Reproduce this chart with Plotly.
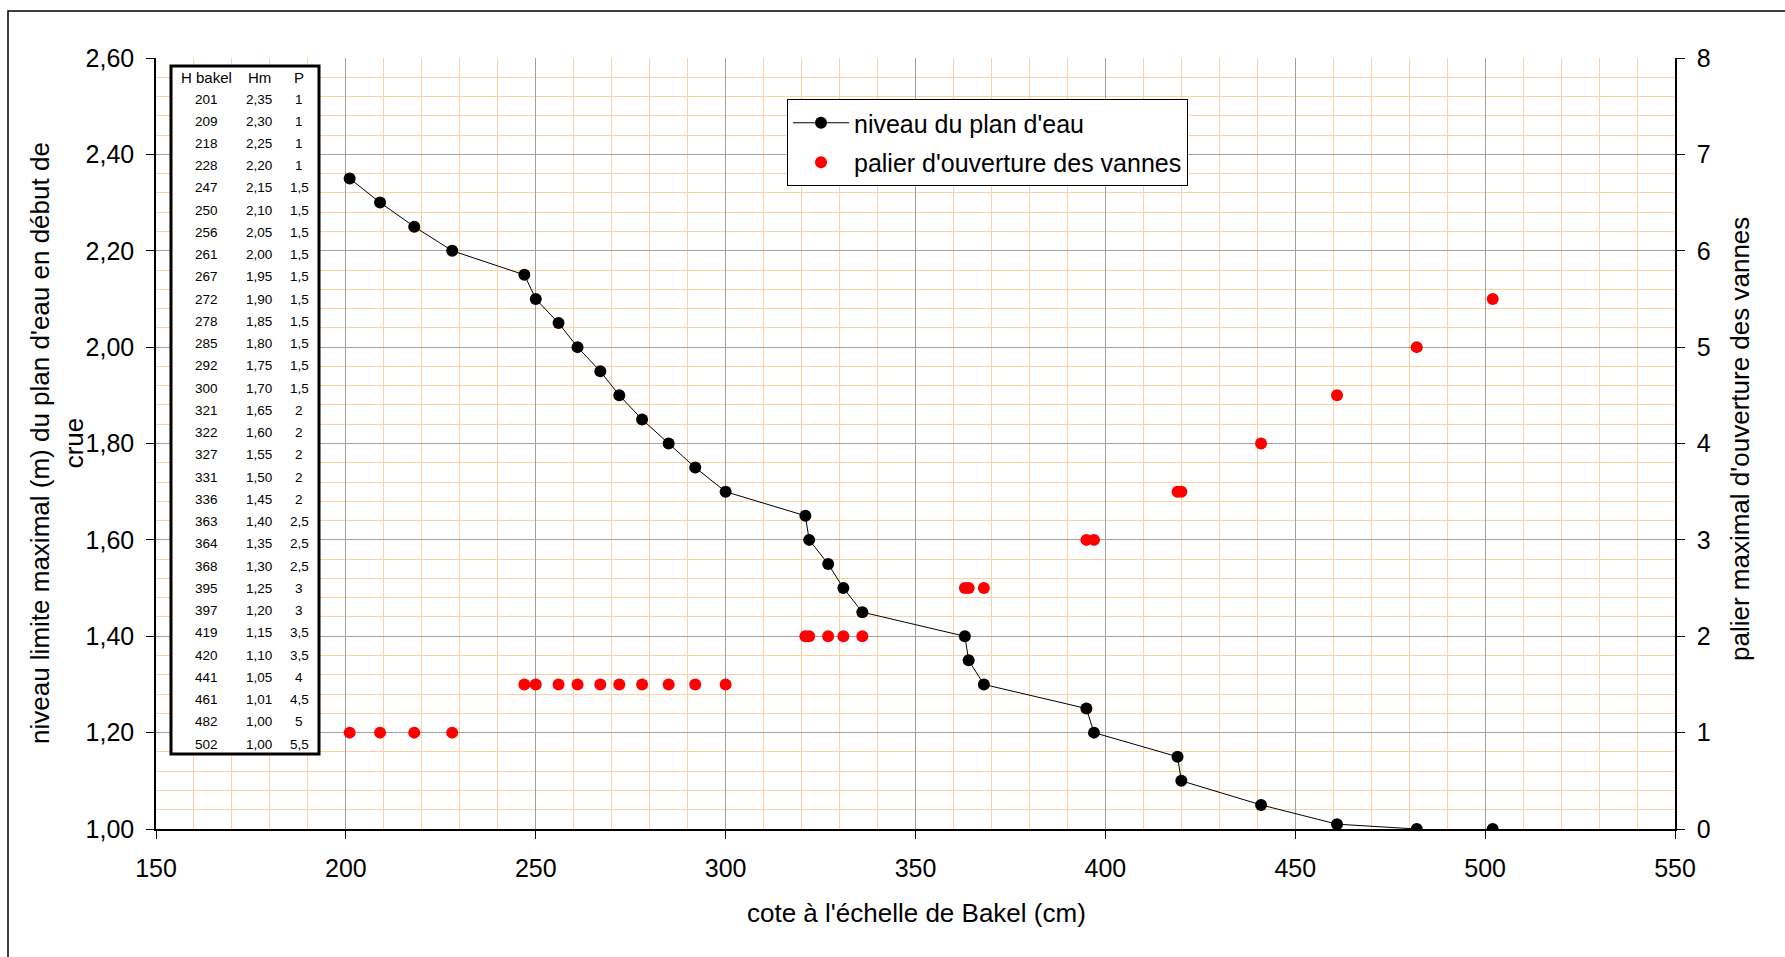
import plotly.graph_objects as go

h_bakel = [201, 209, 218, 228, 247, 250, 256, 261, 267, 272, 278, 285, 292, 300,
           321, 322, 327, 331, 336, 363, 364, 368, 395, 397, 419, 420, 441, 461, 482, 502]
hm = [2.35, 2.30, 2.25, 2.20, 2.15, 2.10, 2.05, 2.00, 1.95, 1.90, 1.85, 1.80, 1.75, 1.70,
      1.65, 1.60, 1.55, 1.50, 1.45, 1.40, 1.35, 1.30, 1.25, 1.20, 1.15, 1.10, 1.05, 1.01, 1.00, 1.00]
palier = [1, 1, 1, 1, 1.5, 1.5, 1.5, 1.5, 1.5, 1.5, 1.5, 1.5, 1.5, 1.5,
          2, 2, 2, 2, 2, 2.5, 2.5, 2.5, 3, 3, 3.5, 3.5, 4, 4.5, 5, 5.5]
table_headers = ["H bakel", "Hm", "P"]

FONT = "Liberation Sans, Arial, sans-serif"

# plot-area geometry in pixels
W_FIG, H_FIG = 1785, 957
L, R, T, B = 156, 1675, 58, 829
PW, PH = R - L, B - T


def px(x):
    return (x - L) / PW


def py(y):
    return (B - y) / PH


def fmt(v):
    s = f"{v:g}"
    return s.replace(".", ",")


fig = go.Figure()

# line + markers (line stops at 482, last point stand-alone)
fig.add_trace(go.Scatter(
    x=h_bakel[:-1], y=hm[:-1], mode="lines+markers",
    name="niveau du plan d'eau",
    line=dict(color="black", width=1),
    marker=dict(color="black", size=12),
    legendgroup="a",
))
fig.add_trace(go.Scatter(
    x=h_bakel[-1:], y=hm[-1:], mode="markers",
    marker=dict(color="black", size=12),
    showlegend=False, legendgroup="a",
))
fig.add_trace(go.Scatter(
    x=h_bakel, y=palier, mode="markers",
    name="palier d'ouverture des vannes",
    marker=dict(color="#FF0000", size=12),
    yaxis="y2", legendgroup="b",
))

minor_color = "#FFD0A0"
major_color = "#A0A0A0"

fig.update_layout(
    width=W_FIG, height=H_FIG,
    margin=dict(l=L, r=W_FIG - R, t=T, b=H_FIG - B, pad=0),
    paper_bgcolor="white", plot_bgcolor="white",
    separators=", ",
    font=dict(family=FONT, color="black"),
    showlegend=True,
    xaxis=dict(
        range=[150, 550], dtick=50, tick0=150,
        showgrid=True, gridcolor=major_color, gridwidth=1,
        minor=dict(dtick=10, showgrid=True, gridcolor=minor_color, gridwidth=1, ticks=""),
        showline=True, linecolor="black", linewidth=1.5,
        ticks="outside", ticklen=8, tickcolor="black", tickwidth=1,
        tickfont=dict(size=25, family=FONT), ticklabelstandoff=8,
        zeroline=False, fixedrange=True,
    ),
    yaxis=dict(
        range=[1.0, 2.6], dtick=0.2, tick0=1.0, tickformat=".2f",
        showgrid=True, gridcolor=major_color, gridwidth=1,
        minor=dict(dtick=0.04, tick0=1.0, showgrid=True, gridcolor=minor_color, gridwidth=1, ticks=""),
        showline=True, linecolor="black", linewidth=1.5,
        ticks="outside", ticklen=8, tickcolor="black", tickwidth=1,
        tickfont=dict(size=25, family=FONT), ticklabelstandoff=7,
        zeroline=False, fixedrange=True,
    ),
    yaxis2=dict(
        range=[0, 8], dtick=1, overlaying="y", side="right",
        showgrid=False, showline=True, linecolor="black", linewidth=1.5,
        ticks="outside", ticklen=8, tickcolor="black", tickwidth=1,
        tickfont=dict(size=25, family=FONT), ticklabelstandoff=7,
        zeroline=False, fixedrange=True,
    ),
    legend=dict(
        x=px(787), y=py(99), xanchor="left", yanchor="top",
        bgcolor="white", bordercolor="black", borderwidth=1,
        font=dict(size=25, family=FONT),
        itemwidth=56, tracegroupgap=4, traceorder="grouped",
    ),
)

shapes = []
annotations = []

# outer chart border (top and left visible)
shapes.append(dict(type="rect", xref="paper", yref="paper",
                   x0=px(8), x1=px(1800), y0=py(11), y1=py(975),
                   line=dict(color="black", width=1.5), fillcolor="rgba(0,0,0,0)",
                   layer="below"))

# data table box
shapes.append(dict(type="rect", xref="paper", yref="paper",
                   x0=px(171), x1=px(319), y0=py(66), y1=py(754),
                   line=dict(color="black", width=3), fillcolor="white",
                   layer="above"))

col_x = [206, 259, 299]
header_y = 77
row0_y = 99
row_dy = (744 - 99) / 29

for cx, htxt in zip(col_x, table_headers):
    annotations.append(dict(xref="paper", yref="paper", x=px(cx), y=py(header_y),
                            text=htxt, showarrow=False, xanchor="center", yanchor="middle",
                            font=dict(size=15, family=FONT, color="black")))

for i, (hb, h, p) in enumerate(zip(h_bakel, hm, palier)):
    yy = row0_y + i * row_dy
    for cx, txt in zip(col_x, [str(hb), f"{h:.2f}".replace(".", ","), fmt(p)]):
        annotations.append(dict(xref="paper", yref="paper", x=px(cx), y=py(yy),
                                text=txt, showarrow=False, xanchor="center", yanchor="middle",
                                font=dict(size=13.5, family=FONT, color="black")))

# axis titles
annotations.append(dict(xref="paper", yref="paper", x=px(916), y=py(913),
                        text="cote à l'échelle de Bakel (cm)", showarrow=False,
                        xanchor="center", yanchor="middle",
                        font=dict(size=26, family=FONT, color="black")))
annotations.append(dict(xref="paper", yref="paper", x=px(57), y=py(443),
                        text="niveau limite maximal (m) du plan d'eau en début de<br>crue",
                        showarrow=False, textangle=-90, xanchor="center", yanchor="middle",
                        align="center",
                        font=dict(size=26, family=FONT, color="black")))
annotations.append(dict(xref="paper", yref="paper", x=px(1740), y=py(439),
                        text="palier maximal d'ouverture des vannes", showarrow=False,
                        textangle=-90, xanchor="center", yanchor="middle",
                        font=dict(size=26, family=FONT, color="black")))

fig.update_layout(shapes=shapes, annotations=annotations)

fig.write_html("out.html")
